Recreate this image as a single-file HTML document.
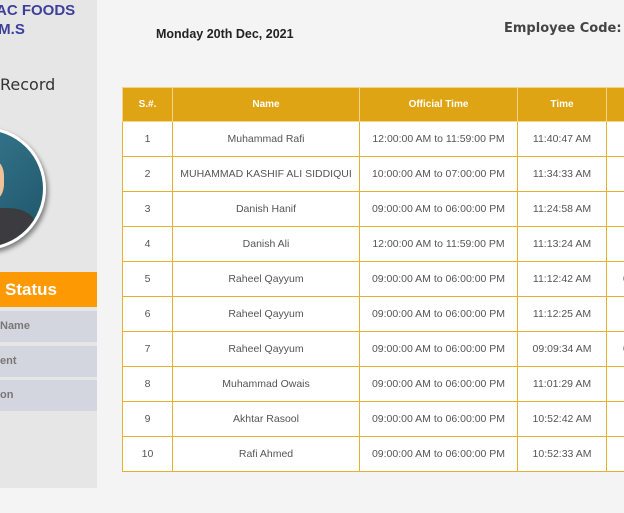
<!DOCTYPE html>
<html><head><meta charset="utf-8"><style>
*{margin:0;padding:0;box-sizing:border-box}
body{width:624px;height:513px;overflow:hidden;background:#f4f4f4;font-family:"Liberation Sans",sans-serif;position:relative}
.sb{position:absolute;left:0;top:0;width:97px;height:488px;background:#e7e6e6;overflow:hidden}
.t1{position:absolute;left:-4px;top:2px;font-weight:bold;color:#3d3f9a;font-size:15px;white-space:nowrap}
.t2{position:absolute;left:-6px;top:21px;font-weight:bold;color:#3d3f9a;font-size:15px;white-space:nowrap}
.rec{position:absolute;left:0;top:75px;font-size:16px;color:#333;font-family:"DejaVu Sans",sans-serif}
.av{position:absolute;left:-77px;top:127px;width:123px;height:123px;border-radius:50%;background:linear-gradient(135deg,#3b7f97 0%,#2d6a80 50%,#1f5468 100%);border:3px solid #fff;box-shadow:2px 3px 5px rgba(0,0,0,.45);overflow:hidden}
.av .face{position:absolute;left:52px;top:30px;width:26px;height:40px;background:#f0c29a;border-radius:0 40% 40% 0}
.av .hair{position:absolute;left:52px;top:18px;width:20px;height:22px;background:#222;border-radius:0 60% 20% 0}
.av .body{position:absolute;left:20px;top:78px;width:90px;height:60px;background:#3c3c40;border-radius:30% 30% 0 0}
.st{position:absolute;left:0;top:272px;width:97px;height:35px;background:#fd9a03;color:#fff;font-weight:bold;font-size:17px;padding:8px 0 0 5px}
.it{position:absolute;left:0;width:97px;height:31px;background:#d3d6de;color:#777;font-weight:bold;font-size:11px;padding:9px 0 0 0}
.date{position:absolute;left:156px;top:27px;font-weight:bold;font-size:12.5px;color:#222}
.emp{position:absolute;left:504px;top:21px;font-size:13px;font-weight:bold;color:#444;font-family:"DejaVu Sans",sans-serif;white-space:nowrap}
table{position:absolute;left:122px;top:87px;border-collapse:collapse;background:#fff;table-layout:fixed;width:540px}
th{background:#dfa414;color:#fff;font-size:10px;height:34px;border:1px solid #f2d48a;font-weight:bold}
td{height:35px;border:1px solid #e6b030;text-align:center;font-size:10.5px;color:#555}
</style></head><body>
<div class="sb">
<div class="t1">AC FOODS</div><div class="t2">.M.S</div>
<div class="rec">Record</div>
<div class="av"><div class="hair"></div><div class="face"></div><div class="body"></div></div>
<div class="st">Status</div>
<div class="it" style="top:311px">Name</div>
<div class="it" style="top:346px">ent</div>
<div class="it" style="top:380px">on</div>
</div>
<div class="date">Monday 20th Dec, 2021</div>
<div class="emp">Employee Code:</div>
<table>
<colgroup><col style="width:50px"><col style="width:187px"><col style="width:158px"><col style="width:89px"><col style="width:56px"></colgroup>
<tr><th>S.#.</th><th>Name</th><th>Official Time</th><th>Time</th><th></th></tr>
<tr><td>1</td><td>Muhammad Rafi</td><td>12:00:00 AM to 11:59:00 PM</td><td>11:40:47 AM</td><td></td></tr>
<tr><td>2</td><td>MUHAMMAD KASHIF ALI SIDDIQUI</td><td>10:00:00 AM to 07:00:00 PM</td><td>11:34:33 AM</td><td></td></tr>
<tr><td>3</td><td>Danish Hanif</td><td>09:00:00 AM to 06:00:00 PM</td><td>11:24:58 AM</td><td></td></tr>
<tr><td>4</td><td>Danish Ali</td><td>12:00:00 AM to 11:59:00 PM</td><td>11:13:24 AM</td><td></td></tr>
<tr><td>5</td><td>Raheel Qayyum</td><td>09:00:00 AM to 06:00:00 PM</td><td>11:12:42 AM</td><td style="text-align:left;padding-left:16px">0</td></tr>
<tr><td>6</td><td>Raheel Qayyum</td><td>09:00:00 AM to 06:00:00 PM</td><td>11:12:25 AM</td><td></td></tr>
<tr><td>7</td><td>Raheel Qayyum</td><td>09:00:00 AM to 06:00:00 PM</td><td>09:09:34 AM</td><td style="text-align:left;padding-left:16px">0</td></tr>
<tr><td>8</td><td>Muhammad Owais</td><td>09:00:00 AM to 06:00:00 PM</td><td>11:01:29 AM</td><td></td></tr>
<tr><td>9</td><td>Akhtar Rasool</td><td>09:00:00 AM to 06:00:00 PM</td><td>10:52:42 AM</td><td></td></tr>
<tr><td>10</td><td>Rafi Ahmed</td><td>09:00:00 AM to 06:00:00 PM</td><td>10:52:33 AM</td><td></td></tr>
</table>
</body></html>
